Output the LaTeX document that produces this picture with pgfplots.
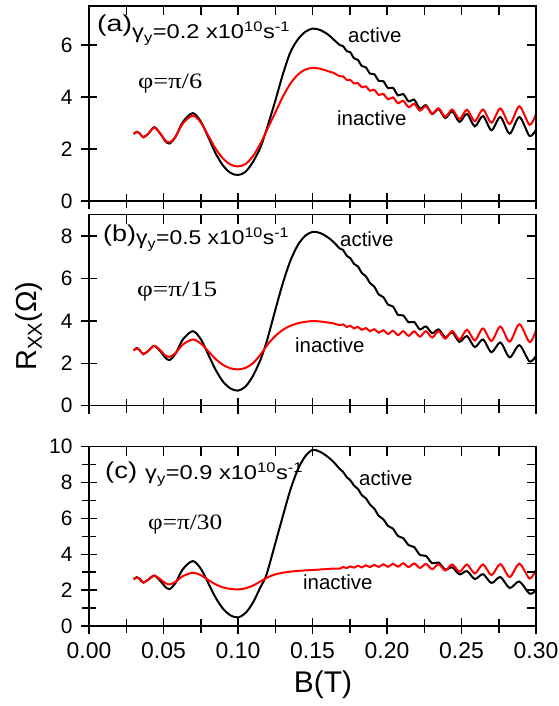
\documentclass[border=0pt]{standalone}
\usepackage{pgfplots}
\pgfplotsset{compat=1.18}
\usepackage{graphicx}
\usepackage{fontspec}
\setmainfont{Liberation Sans}
\newfontfamily\timesfont{Liberation Serif}
\pgfplotsset{
  panel/.style={
    scale only axis, width=447bp, xmin=0, xmax=0.3,
    xtick={0,0.05,0.1,0.15,0.2,0.25,0.3},
    minor xtick={0.025,0.075,0.125,0.175,0.225,0.275},
    xtick pos=left, ytick pos=left, tick align=center,
    major tick length=16bp, minor tick length=14bp,
    axis line style={line width=1.6bp},
    tick style={line width=1.5bp, black},
    yticklabel style={font=\fontsize{21}{21}\selectfont, xshift=-5bp},
    xticklabel style={font=\fontsize{23}{23}\selectfont, yshift=-5bp},
  },
  overlay/.style={
    scale only axis, width=447bp, xmin=0, xmax=0.3,
    xtick={0,0.05,0.1,0.15,0.2,0.25,0.3},
    minor xtick={0.025,0.075,0.125,0.175,0.225,0.275},
    xtick pos=right, ytick pos=right, tick align=inside,
    major tick length=9bp, minor tick length=9bp,
    axis line style={line width=1.6bp},
    tick style={line width=1.5bp, black},
    xticklabels={}, yticklabels={},
  },
  blk/.style={black, line width=2bp, smooth, no marks},
  rd/.style={red, line width=2bp, smooth, no marks},
}
\begin{document}
\begin{tikzpicture}
\useasboundingbox (0,0) rectangle (559bp,706bp);

% ---------------- panel (a)
\begin{axis}[panel, at={(89bp,505bp)}, anchor=south west, height=195bp,
  ymin=0, ymax=7.5, ytick={0,2,4,6}, yticklabels={0,2,4,6}, xticklabels={}]
\addplot[blk] coordinates {(0.030,2.58)(0.032,2.66)(0.034,2.60)(0.0365,2.45)(0.040,2.60)(0.0438,2.84)(0.048,2.58)(0.051,2.32)(0.054,2.21)(0.058,2.46)(0.063,3.04)(0.0696,3.38)(0.075,3.06)(0.080,2.46)(0.085,1.83)(0.090,1.36)(0.095,1.08)(0.100,1.00)(0.105,1.12)(0.110,1.50)(0.115,2.05)(0.118,2.55)(0.120,2.90)(0.125,3.85)(0.130,4.85)(0.135,5.70)(0.140,6.20)(0.145,6.50)(0.150,6.63)(0.155,6.58)(0.160,6.42)(0.164,6.22)
(0.16829,6.00)(0.17059,5.955)(0.17295,5.765)(0.17538,5.72)(0.17787,5.49)(0.18044,5.425)(0.18308,5.195)(0.18580,5.14)(0.18861,4.90)(0.19150,4.875)(0.19448,4.62)(0.19755,4.605)(0.20072,4.34)(0.20400,4.355)(0.20738,4.06)(0.21088,4.115)(0.21450,3.83)(0.21825,3.895)(0.22212,3.555)(0.22614,3.685)(0.23031,3.345)(0.23463,3.535)(0.23912,3.19)(0.24378,3.45)(0.24863,3.04)(0.25368,3.35)(0.25893,2.87)(0.26441,3.27)(0.27012,2.72)(0.27609,3.23)(0.28233,2.59)(0.28885,3.23)(0.29568,2.50)(0.300,2.75)};
\addplot[rd] coordinates {(0.030,2.58)(0.032,2.66)(0.034,2.60)(0.0365,2.45)(0.040,2.60)(0.0438,2.82)(0.048,2.58)(0.051,2.35)(0.054,2.25)(0.058,2.47)(0.063,2.98)(0.0696,3.28)(0.075,3.02)(0.080,2.52)(0.085,2.01)(0.090,1.63)(0.095,1.40)(0.100,1.33)(0.105,1.42)(0.110,1.72)(0.115,2.20)(0.118,2.55)(0.120,2.80)(0.125,3.40)(0.130,4.00)(0.135,4.50)(0.140,4.85)(0.145,5.05)(0.150,5.12)(0.155,5.09)(0.160,5.00)(0.164,4.93)
(0.16829,4.80)(0.17059,4.795)(0.17295,4.655)(0.17538,4.66)(0.17787,4.52)(0.18044,4.535)(0.18308,4.375)(0.18580,4.41)(0.18861,4.24)(0.19150,4.275)(0.19448,4.08)(0.19755,4.115)(0.20072,3.91)(0.20400,3.985)(0.20738,3.76)(0.21088,3.855)(0.21450,3.61)(0.21825,3.735)(0.22212,3.475)(0.22614,3.645)(0.23031,3.355)(0.23463,3.565)(0.23912,3.24)(0.24378,3.52)(0.24863,3.15)(0.25368,3.51)(0.25893,3.07)(0.26441,3.52)(0.27012,3.01)(0.27609,3.56)(0.28233,2.96)(0.28885,3.64)(0.29568,2.93)(0.300,3.35)};
\end{axis}
\begin{axis}[overlay, at={(89bp,505bp)}, anchor=south west, height=195bp,
  ymin=0, ymax=7.5, ytick={0,2,4,6}]
\end{axis}

% ---------------- panel (b)
\begin{axis}[panel, at={(89bp,300.3bp)}, anchor=south west, height=191bp,
  ymin=0, ymax=9, ytick={0,2,4,6,8}, yticklabels={0,2,4,6,8}, xticklabels={}]
\addplot[blk] coordinates {(0.030,2.60)(0.032,2.72)(0.034,2.62)(0.0365,2.43)(0.040,2.60)(0.0438,2.82)(0.048,2.55)(0.051,2.28)(0.054,2.15)(0.058,2.44)(0.063,3.12)(0.0696,3.51)(0.075,3.14)(0.080,2.42)(0.085,1.69)(0.090,1.13)(0.095,0.81)(0.100,0.71)(0.105,0.90)(0.110,1.40)(0.115,2.15)(0.118,2.75)(0.120,3.20)(0.125,4.50)(0.130,5.75)(0.135,6.80)(0.140,7.55)(0.145,8.00)(0.150,8.19)(0.155,8.14)(0.160,7.95)(0.164,7.72)
(0.16829,7.41)(0.17059,7.335)(0.17295,7.065)(0.17538,6.95)(0.17787,6.68)(0.18044,6.565)(0.18308,6.255)(0.18580,6.10)(0.18861,5.78)(0.19150,5.605)(0.19448,5.24)(0.19755,5.115)(0.20072,4.76)(0.20400,4.675)(0.20738,4.28)(0.21088,4.255)(0.21450,3.93)(0.21825,3.945)(0.22212,3.595)(0.22614,3.735)(0.23031,3.415)(0.23463,3.595)(0.23912,3.23)(0.24378,3.45)(0.24863,3.01)(0.25368,3.28)(0.25893,2.76)(0.26441,3.12)(0.27012,2.52)(0.27609,2.98)(0.28233,2.28)(0.28885,2.85)(0.29568,2.08)(0.300,2.35)};
\addplot[rd] coordinates {(0.030,2.60)(0.032,2.70)(0.034,2.62)(0.0365,2.43)(0.040,2.60)(0.0438,2.82)(0.048,2.60)(0.051,2.38)(0.054,2.30)(0.058,2.48)(0.063,2.88)(0.0696,3.12)(0.075,2.93)(0.080,2.57)(0.085,2.20)(0.090,1.92)(0.095,1.76)(0.100,1.71)(0.105,1.78)(0.110,2.00)(0.115,2.40)(0.118,2.70)(0.120,2.90)(0.125,3.28)(0.130,3.57)(0.135,3.76)(0.140,3.88)(0.145,3.95)(0.150,3.99)(0.155,3.97)(0.160,3.92)(0.164,3.88)
(0.16829,3.794)(0.17059,3.832)(0.17295,3.708)(0.17538,3.768)(0.17787,3.642)(0.18044,3.714)(0.18308,3.576)(0.18580,3.66)(0.18861,3.51)(0.19150,3.606)(0.19448,3.438)(0.19755,3.558)(0.20072,3.376)(0.20400,3.53)(0.20738,3.324)(0.21088,3.512)(0.21450,3.292)(0.21825,3.504)(0.22212,3.254)(0.22614,3.508)(0.23031,3.21)(0.23463,3.512)(0.23912,3.16)(0.24378,3.522)(0.24863,3.114)(0.25368,3.58)(0.25893,3.076)(0.26441,3.638)(0.27012,3.048)(0.27609,3.728)(0.28233,3.016)(0.28885,3.84)(0.29568,2.996)(0.300,3.55)};
\end{axis}
\begin{axis}[overlay, at={(89bp,300.3bp)}, anchor=south west, height=191bp,
  ymin=0, ymax=9, ytick={0,2,4,6,8}]
\end{axis}

% ---------------- panel (c)
\begin{axis}[panel, at={(89bp,80bp)}, anchor=south west, height=179.3bp,
  ymin=0, ymax=10, ytick={0,2,4,6,8,10}, yticklabels={0,2,4,6,8,10},
  minor ytick={1,3,5,7,9},
  xticklabels={0.00,0.05,0.10,0.15,0.20,0.25,0.30}]
\addplot[blk] coordinates {(0.030,2.60)(0.032,2.72)(0.034,2.62)(0.0365,2.42)(0.040,2.60)(0.0438,2.81)(0.048,2.50)(0.051,2.20)(0.054,2.06)(0.058,2.39)(0.063,3.17)(0.0696,3.62)(0.075,3.20)(0.080,2.40)(0.085,1.58)(0.090,0.96)(0.095,0.59)(0.100,0.48)(0.105,0.72)(0.110,1.30)(0.115,2.15)(0.118,2.62)(0.120,3.10)(0.125,4.60)(0.130,6.10)(0.135,7.55)(0.140,8.70)(0.145,9.45)(0.150,9.82)(0.155,9.72)(0.160,9.45)(0.164,9.16)
(0.16829,8.76)(0.17059,8.59)(0.17295,8.30)(0.17538,8.13)(0.17787,7.83)(0.18044,7.65)(0.18308,7.30)(0.18580,7.12)(0.18861,6.77)(0.19150,6.54)(0.19448,6.14)(0.19755,5.95)(0.20072,5.58)(0.20400,5.43)(0.20738,5.02)(0.21088,4.90)(0.21450,4.51)(0.21825,4.40)(0.22212,3.96)(0.22614,3.91)(0.23031,3.50)(0.23463,3.54)(0.23912,3.15)(0.24378,3.27)(0.24863,2.88)(0.25368,3.06)(0.25893,2.62)(0.26441,2.89)(0.27012,2.40)(0.27609,2.73)(0.28233,2.12)(0.28885,2.48)(0.29568,1.80)(0.300,2.00)};
\addplot[rd] coordinates {(0.030,2.60)(0.032,2.70)(0.034,2.62)(0.0365,2.42)(0.040,2.60)(0.0438,2.81)(0.048,2.60)(0.051,2.40)(0.054,2.32)(0.058,2.46)(0.063,2.78)(0.0696,2.97)(0.075,2.84)(0.080,2.57)(0.085,2.32)(0.090,2.15)(0.095,2.07)(0.100,2.04)(0.105,2.10)(0.110,2.25)(0.115,2.48)(0.118,2.62)(0.120,2.72)(0.125,2.88)(0.130,2.97)(0.135,3.03)(0.140,3.07)(0.145,3.10)(0.150,3.12)(0.155,3.15)(0.160,3.18)(0.164,3.20)
(0.16829,3.195)(0.17059,3.29)(0.17295,3.23)(0.17538,3.326)(0.17787,3.254)(0.18044,3.362)(0.18308,3.268)(0.18580,3.388)(0.18861,3.282)(0.19150,3.413)(0.19448,3.291)(0.19755,3.445)(0.20072,3.30)(0.20400,3.476)(0.20738,3.308)(0.21088,3.498)(0.21450,3.286)(0.21825,3.489)(0.22212,3.239)(0.22614,3.462)(0.23031,3.166)(0.23463,3.445)(0.23912,3.097)(0.24378,3.434)(0.24863,3.023)(0.25368,3.43)(0.25893,2.927)(0.26441,3.436)(0.27012,2.84)(0.27609,3.453)(0.28233,2.732)(0.28885,3.47)(0.29568,2.645)(0.300,3.15)};
\end{axis}
\begin{axis}[overlay, at={(89bp,80bp)}, anchor=south west, height=179.3bp,
  ymin=0, ymax=10, ytick={0,2,4,6,8,10}, minor ytick={1,3,5,7,9}]
\end{axis}

% ---------------- annotations
\tikzset{lab/.style={anchor=base west, inner sep=0pt}}
% (a)
\node[lab] at (97bp,674bp) {\resizebox{35bp}{\height}{\fontsize{23}{23}\selectfont (a)}};
\node[lab] at (132bp,667bp) {\resizebox{158bp}{\height}{\fontsize{20}{20}\selectfont γ\textsubscript{y}=0.2 x10\textsuperscript{10}s\textsuperscript{-1}}};
\node[lab] at (138bp,617bp) {\resizebox{64bp}{\height}{\timesfont\fontsize{22}{22}\selectfont φ=π/6}};
\node[lab] at (348bp,663bp) {\fontsize{20.5}{20.5}\selectfont active};
\node[lab] at (337bp,580bp) {\fontsize{20.5}{20.5}\selectfont inactive};
% (b)
\node[lab] at (103bp,464bp) {\resizebox{33bp}{\height}{\fontsize{23}{23}\selectfont (b)}};
\node[lab] at (136bp,461bp) {\resizebox{153bp}{\height}{\fontsize{20}{20}\selectfont γ\textsubscript{y}=0.5 x10\textsuperscript{10}s\textsuperscript{-1}}};
\node[lab] at (137bp,409bp) {\resizebox{80bp}{\height}{\timesfont\fontsize{22}{22}\selectfont φ=π/15}};
\node[lab] at (340bp,459bp) {\fontsize{20.5}{20.5}\selectfont active};
\node[lab] at (295bp,353bp) {\fontsize{20.5}{20.5}\selectfont inactive};
% (c)
\node[lab] at (105bp,227bp) {\resizebox{32bp}{\height}{\fontsize{23}{23}\selectfont (c)}};
\node[lab] at (145bp,226bp) {\resizebox{158bp}{\height}{\fontsize{20}{20}\selectfont γ\textsubscript{y}=0.9 x10\textsuperscript{10}s\textsuperscript{-1}}};
\node[lab] at (148bp,176bp) {\resizebox{74bp}{\height}{\timesfont\fontsize{22}{22}\selectfont φ=π/30}};
\node[lab] at (359bp,220bp) {\fontsize{20.5}{20.5}\selectfont active};
\node[lab] at (303bp,116bp) {\fontsize{20.5}{20.5}\selectfont inactive};
% axis labels
\node[rotate=90, anchor=center, inner sep=0pt] at (29bp,380bp) {\fontsize{29}{29}\selectfont R\textsubscript{XX}(Ω)};
\node[anchor=base, inner sep=0pt] at (323bp,14bp) {\fontsize{30}{30}\selectfont B(T)};
\end{tikzpicture}
\end{document}
